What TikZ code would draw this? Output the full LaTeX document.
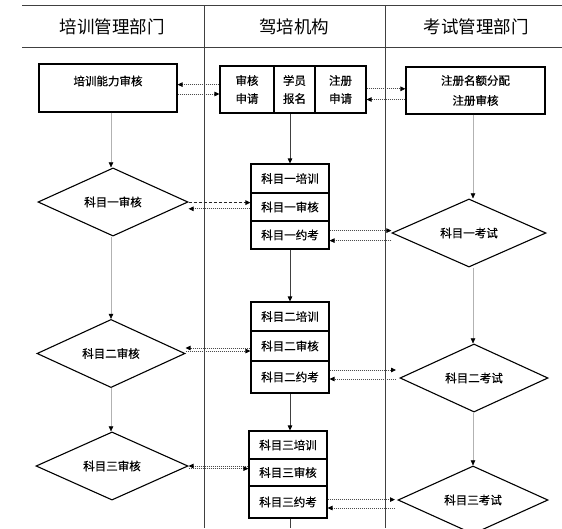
\documentclass[tikz,border=0pt]{standalone}
\usepackage{fontspec}
\setmainfont{Noto Sans CJK SC}
\newfontfamily\boxfont{Noto Sans CJK SC}[FakeBold=0.6]
\usetikzlibrary{arrows.meta,shapes.geometric}
\begin{document}
\begin{tikzpicture}[x=1pt,y=-1pt,
  txt/.style={font=\boxfont\fontsize{11.5}{18}\selectfont},
  box/.style={draw, line width=1.1pt, inner sep=0pt, txt, align=center},
  cell/.style={box, minimum width=78pt},
  dia/.style={draw, diamond, line width=1.1pt, inner sep=0pt, txt},
  lane/.style={line width=1pt, black!75},
  tip/.style={-{Triangle[length=5pt,width=4.5pt,color=black]}},
  gflow/.style={tip, line width=0.5pt, black!30},
  mflow/.style={tip, line width=0.8pt, black!75},
  dots/.style={tip, line width=0.8pt, black!70, dash pattern=on 1pt off 1pt},
  dashline/.style={tip, line width=1.2pt, black!85, dash pattern=on 3pt off 2pt}]
\useasboundingbox (0,0) rectangle (562,528);
% lanes
\draw[lane] (22,5) -- (562,5);
\draw[lane, line width=1.4pt] (22,47.5) -- (562,47.5);
\draw[lane] (204,5) -- (204,528);
\draw[lane] (385,5) -- (385,528);
\node[font=\fontsize{17.5}{20}\selectfont] (h1) at (112,27) {培训管理部门};
\node[font=\fontsize{17.5}{20}\selectfont] (h2) at (294,27) {驾培机构};
\node[font=\fontsize{17.5}{20}\selectfont] (h3) at (476,27) {考试管理部门};
% top row
\node[box, minimum width=138pt, minimum height=48pt] (lb) at (108,88) {};
\node[txt] (lbt) at (108,81) {培训能力审核};
\node[box, minimum width=54pt, minimum height=47pt] (m1) at (247,89.5) {审核\\申请};
\node[box, minimum width=41pt, minimum height=47pt] (m2) at (294.5,89.5) {学员\\报名};
\node[box, minimum width=51pt, minimum height=47pt] (m3) at (340.5,89.5) {注册\\申请};
\node[box, minimum width=139pt, minimum height=47pt, font=\boxfont\fontsize{11.5}{20}\selectfont] (rb) at (475.5,90.5) {注册名额分配\\注册审核};
% stacks
\node[cell, minimum height=29pt] (s1a) at (290,178.5) {科目一培训};
\node[cell, minimum height=28pt] (s1b) at (290,207) {科目一审核};
\node[cell, minimum height=28pt] (s1c) at (290,235) {科目一约考};
\node[cell, minimum height=29pt] (s2a) at (290,316.5) {科目二培训};
\node[cell, minimum height=30pt] (s2b) at (290,346) {科目二审核};
\node[cell, minimum height=32pt] (s2c) at (290,377) {科目二约考};
\node[cell, minimum height=28pt] (s3a) at (288,445) {科目三培训};
\node[cell, minimum height=27pt] (s3b) at (288,472.5) {科目三审核};
\node[cell, minimum height=32pt] (s3c) at (288,502) {科目三约考};
% diamonds
\node[dia, minimum width=150pt, minimum height=56pt] (d1) at (113,202) {科目一审核};
\node[dia, minimum width=148pt, minimum height=57pt] (d2) at (111,353.5) {科目二审核};
\node[dia, minimum width=152pt, minimum height=46pt] (d3) at (112,466) {科目三审核};
\node[dia, minimum width=154pt, minimum height=56pt] (r1) at (469,233) {科目一考试};
\node[dia, minimum width=148pt, minimum height=54pt] (r2) at (474,378) {科目二考试};
\node[dia, minimum width=150pt, minimum height=54pt] (r3) at (473,500) {科目三考试};
% vertical flows
\draw[gflow] (lb.south -| 111,0) -- (d1.north -| 111,0);
\draw[gflow] (d1.south -| 111,0) -- (d2.north -| 111,0);
\draw[gflow] (d2.south -| 111,0) -- (d3.north -| 111,0);
\draw[gflow] (rb.south -| 473,0) -- (r1.north -| 473,0);
\draw[gflow] (r1.south -| 473,0) -- (r2.north -| 473,0);
\draw[gflow] (r2.south -| 473,0) -- (r3.north -| 473,0);
\draw[mflow] (m2.south -| 290,0) -- (s1a.north);
\draw[mflow] (s1c.south) -- (s2a.north);
\draw[mflow] (s2c.south) -- (s3a.north -| 290,0);
\coordinate (end) at (290,528);
\draw[line width=0.8pt, black!75] (s3c.south -| 290,0) -- (end);
% horizontal flows, top row
\draw[dots] (m1.west |- 0,84.6) -- (lb.east |- 0,84.6);
\draw[dots] (lb.east |- 0,94) -- (m1.west |- 0,94);
\draw[dots] (m3.east |- 0,88.8) -- (rb.west |- 0,88.8);
\draw[dots] (rb.west |- 0,99.5) -- (m3.east |- 0,99.5);
% row 1
\draw[dashline] (d1.east |- 0,202.6) -- (s1b.west |- 0,202.6);
\draw[dots] (s1b.west |- 0,208.8) -- (d1.east |- 0,208.8);
\draw[dots] (s1c.east |- 0,230.6) -- (r1.west |- 0,230.6);
\draw[dots] (r1.west |- 0,240.6) -- (s1c.east |- 0,240.6);
% row 2
\draw[dots] (s2b.west |- 0,348) -- (d2.east |- 0,348);
\draw[dots] (d2.east |- 0,351) -- (s2b.west |- 0,351);
\coordinate (r2in) at (396,370);
\coordinate (r2out) at (396,379);
\draw[dots] (s2c.east |- 0,370) -- (r2in);
\draw[dots] (r2out) -- (s2c.east |- 0,379);
% row 3
\draw[dots] (s3b.west |- 0,466) -- (d3.east |- 0,466);
\draw[dots] (d3.east |- 0,468.6) -- (s3b.west |- 0,468.6);
\coordinate (r3in) at (395,499.6);
\coordinate (r3out) at (395,508);
\draw[dots] (s3c.east |- 0,499.6) -- (r3in);
\draw[dots] (r3out) -- (s3c.east |- 0,508);
\end{tikzpicture}
\end{document}
